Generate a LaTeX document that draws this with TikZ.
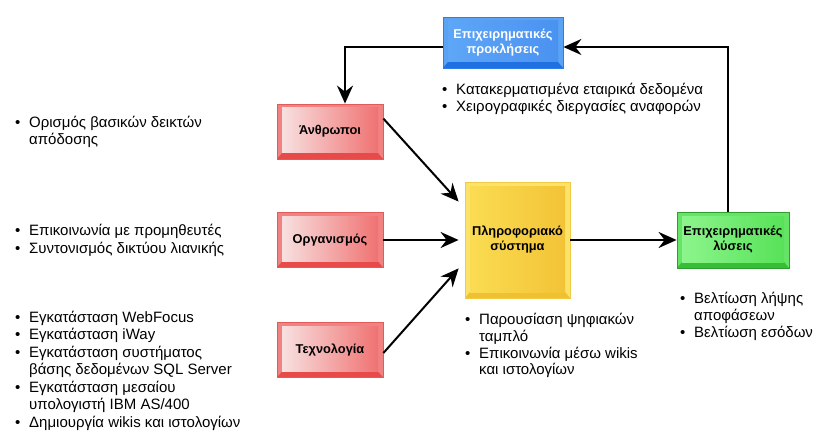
\documentclass[tikz,border=0pt]{standalone}
\usepackage{fontspec}
\setmainfont{Liberation Sans}
\usetikzlibrary{arrows.meta}
\definecolor{redO}{HTML}{F08282}
\definecolor{redB}{HTML}{E84A4A}
\definecolor{redL}{HTML}{F8E0E0}
\definecolor{redR}{HTML}{F07272}
\definecolor{redD}{HTML}{E25B5B}
\definecolor{yelO}{HTML}{FBE36B}
\definecolor{yelB}{HTML}{F0C030}
\definecolor{yelL}{HTML}{FADC52}
\definecolor{yelR}{HTML}{F3C336}
\definecolor{yelD}{HTML}{F2CB45}
\definecolor{bluO}{HTML}{5AA2F4}
\definecolor{bluB}{HTML}{1F70E0}
\definecolor{bluL}{HTML}{5EA6F7}
\definecolor{bluR}{HTML}{4A92F0}
\definecolor{bluD}{HTML}{2F7DE8}
\definecolor{grnO}{HTML}{66E466}
\definecolor{grnB}{HTML}{36BE36}
\definecolor{grnL}{HTML}{8CF58C}
\definecolor{grnR}{HTML}{58E258}
\definecolor{grnD}{HTML}{2E9E2E}
\newcommand\itm[1]{\llap{\makebox[14pt][l]{\textbullet}}#1}
\tikzset{
  bevel/.style n args={5}{draw=#5, line width=0.8pt, fill=#1, inner sep=0pt,
    align=center, font=\fontsize{12.8}{15}\selectfont\bfseries,
    path picture={
      \fill[#4] (path picture bounding box.south west)
        -- ([shift={(5pt,6pt)}]path picture bounding box.south west)
        -- ([shift={(-5pt,6pt)}]path picture bounding box.south east)
        -- (path picture bounding box.south east) -- cycle;
      \shade[left color=#2, right color=#3]
        ([shift={(5pt,-4pt)}]path picture bounding box.north west)
        rectangle ([shift={(-5pt,6pt)}]path picture bounding box.south east);
    }},
  redbox/.style={bevel={redO}{redL}{redR}{redB}{redD}, minimum width=106pt, minimum height=55pt},
  txt/.style={anchor=base west, inner sep=0pt, font=\fontsize{15}{17}\selectfont},
  arr/.style={line width=2pt, -{Stealth[length=18pt,width=16pt,inset=6pt]}}
}
\begin{document}
\begin{tikzpicture}[x=1pt,y=-1pt]
\useasboundingbox (0,0) rectangle (822,441);
\fill[white] (0,0) rectangle (822,441);
% boxes
\node[bevel={bluO}{bluL}{bluR}{bluB}{bluD}, minimum width=120pt, minimum height=51pt, text=white] (blue) at (503,42.5) {Επιχειρηματικές\\προκλήσεις};
\node[redbox] (anth) at (330,131.5) {Άνθρωποι};
\node[redbox] (org) at (330,240) {Οργανισμός};
\node[redbox] (tech) at (330,350) {Τεχνολογία};
\node[bevel={yelO}{yelL}{yelR}{yelB}{yelD}, minimum width=105pt, minimum height=116pt] (yel) at (517.5,240) {Πληροφοριακό\\σύστημα};
\node[bevel={grnO}{grnL}{grnR}{grnB}{grnD}, minimum width=112pt, minimum height=56pt] (grn) at (733,240) {Επιχειρηματικές\\λύσεις};
% connectors
\coordinate (gtop) at ([xshift=-5pt]grn.north);
\coordinate (bin) at ([yshift=-4.5pt]blue.east);
\coordinate (bout) at ([yshift=-4.5pt]blue.west);
\coordinate (atop) at ([xshift=15pt]anth.north);
\draw[arr] (gtop) |- (bin);
\draw[arr] (bout) -| (atop);
\draw[arr] ([yshift=-15pt]anth.north east) -- ([xshift=-6pt,yshift=-20pt]yel.north west);
\draw[arr] (org.east) -- ([xshift=-6pt]yel.west);
\draw[arr] ([yshift=-3pt]tech.east) -- ([xshift=-6pt,yshift=30pt]yel.south west);
\draw[arr] (yel.east) -- (grn.west);
% texts
\node[txt] (t1) at (29,128) {\itm{Ορισμός βασικών δεικτών}};
\node[txt] (t2) at (29,145) {απόδοσης};
\node[txt] (t3) at (29,235) {\itm{Επικοινωνία με προμηθευτές}};
\node[txt] (t4) at (29,253) {\itm{Συντονισμός δικτύου λιανικής}};
\node[txt] (t5) at (29,322) {\itm{Εγκατάσταση WebFocus}};
\node[txt] (t6) at (29,339) {\itm{Εγκατάσταση iWay}};
\node[txt] (t7) at (29,357) {\itm{Εγκατάσταση συστήματος}};
\node[txt] (t8) at (29,374) {βάσης δεδομένων SQL Server};
\node[txt] (t9) at (29,392) {\itm{Εγκατάσταση μεσαίου}};
\node[txt] (t10) at (29,409) {υπολογιστή IBM AS/400};
\node[txt] (t11) at (29,427) {\itm{Δημιουργία wikis και ιστολογίων}};
\node[txt] (b1) at (456,95) {\itm{Κατακερματισμένα εταιρικά δεδομένα}};
\node[txt] (b2) at (456,112) {\itm{Χειρογραφικές διεργασίες αναφορών}};
\node[txt] (y1) at (479,324) {\itm{Παρουσίαση ψηφιακών}};
\node[txt] (y2) at (479,341) {ταμπλό};
\node[txt] (y3) at (479,358) {\itm{Επικοινωνία μέσω wikis}};
\node[txt] (y4) at (479,374) {και ιστολογίων};
\node[txt] (g1) at (694,303) {\itm{Βελτίωση λήψης}};
\node[txt] (g2) at (694,320) {αποφάσεων};
\node[txt] (g3) at (694,337) {\itm{Βελτίωση εσόδων}};
\end{tikzpicture}
\end{document}
